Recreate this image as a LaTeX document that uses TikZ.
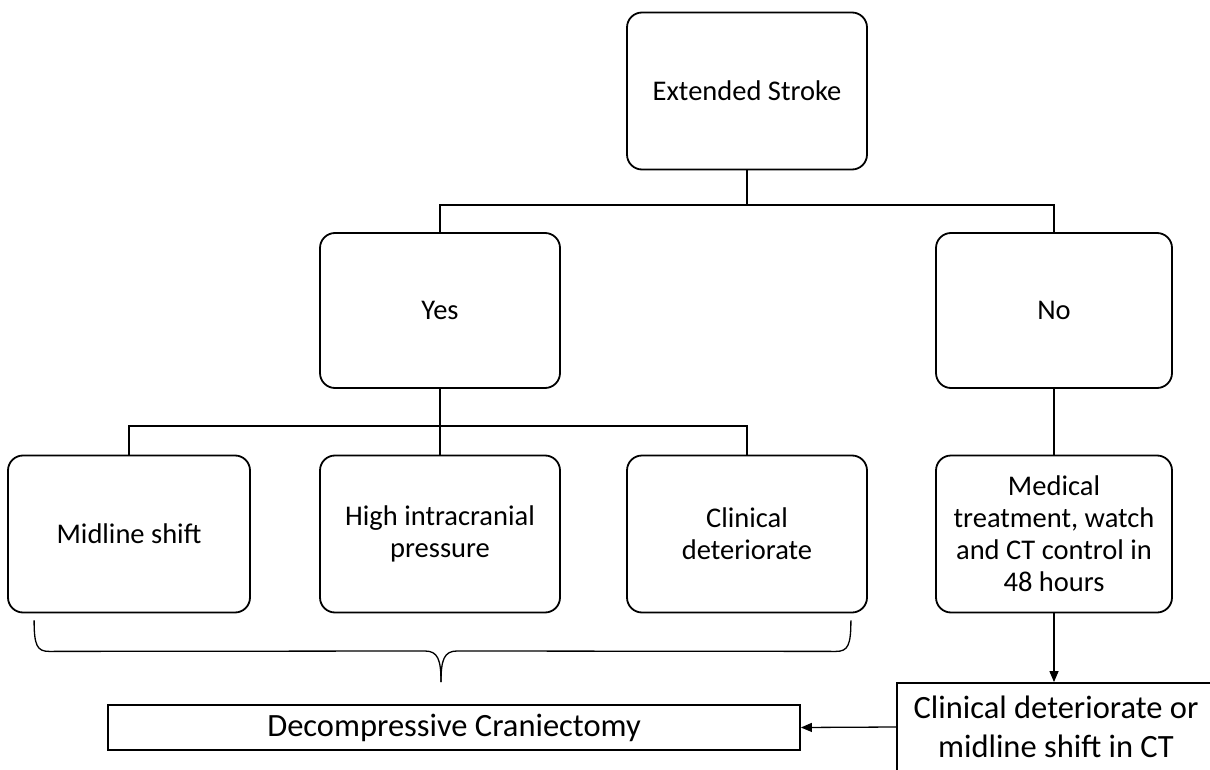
\documentclass[tikz,border=0pt]{standalone}
\usepackage{fontspec}
\setmainfont{Carlito}
\usetikzlibrary{arrows.meta}

\begin{document}
\begin{tikzpicture}[x=1pt, y=-1pt, line width=1.8pt,
  box/.style={draw, rounded corners=15pt, minimum width=240pt, minimum height=157pt,
    align=center, font=\fontsize{28.5}{32}\selectfont},
  plainbox/.style={draw, align=center, inner sep=0pt, font=\fontsize{32.5}{39}\selectfont},
  tip/.style={-{Triangle[length=11pt, width=9pt]}}]
  \useasboundingbox (0,0) rectangle (1210,770);
  \clip (0,0) rectangle (1210,770);

  \node[box] (stroke) at (747,91) {Extended Stroke};
  \node[box, minimum height=155pt] (yes) at (440,310.5) {Yes};
  \node[box, minimum height=155pt, minimum width=236pt] (no) at (1054,310.5) {No};
  \node[box, minimum width=242pt] (mid) at (129,534) {Midline shift};
  \node[box] (icp) at (440,534) {High intracranial\\ pressure};
  \node[box] (clin) at (747,534) {Clinical\\ deteriorate};
  \node[box, minimum width=236pt] (med) at (1054,534)
    {Medical\\ treatment, watch\\ and CT control in\\ 48 hours};
  \node[plainbox, minimum width=692pt, minimum height=45pt] (dc) at (454,727.5)
    {Decompressive Craniectomy};
  \node[plainbox, minimum width=318pt, minimum height=88pt] (cdm) at (1056,727)
    {Clinical deteriorate or\\ midline shift in CT};

  % tree
  \draw (stroke.south) -- ++(0,35) -| (yes.north);
  \draw (stroke.south) -- ++(0,35) -| (no.north);
  \draw (yes.south) -- (icp.north);
  \draw (yes.south) -- ++(0,37) -| (mid.north);
  \draw (yes.south) -- ++(0,37) -| (clin.north);
  \draw (no.south) -- (med.north);

  % brace under the three boxes
  \coordinate (bl) at ([xshift=27pt, yshift=-7pt]mid.south west);
  \coordinate (br) at ([xshift=-17pt, yshift=-7pt]clin.south east);
  \coordinate (bt) at (441,682);
  \draw[line width=1.3pt] (bl) .. controls ([yshift=-25pt]bl) and ([xshift=3pt, yshift=-31pt]bl) .. ([xshift=15pt, yshift=-31pt]bl)
    -- ([xshift=-16pt, yshift=31pt]bt) .. controls ([xshift=-3pt, yshift=31pt]bt) and ([yshift=22pt]bt) .. (bt);
  \draw[line width=1.3pt] (br) .. controls ([yshift=-25pt]br) and ([xshift=-3pt, yshift=-31pt]br) .. ([xshift=-15pt, yshift=-31pt]br)
    -- ([xshift=16pt, yshift=31pt]bt) .. controls ([xshift=3pt, yshift=31pt]bt) and ([yshift=22pt]bt) .. (bt);

  \path[tip, line width=1.3pt]
  (med.south) edge (med.south |- cdm.north)
  (cdm.west) edge (dc.east);
\end{tikzpicture}
\end{document}
